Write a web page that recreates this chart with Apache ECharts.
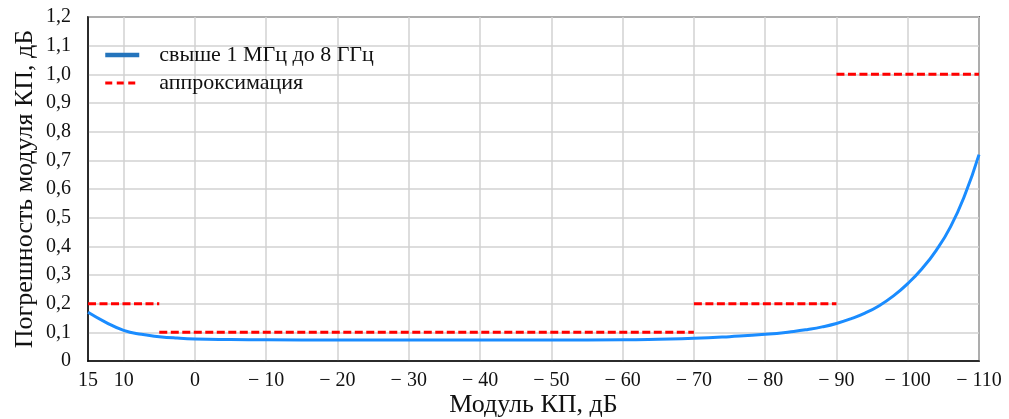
<!DOCTYPE html>
<html>
<head>
<meta charset="utf-8">
<script src="https://cdn.jsdelivr.net/npm/echarts@6/dist/echarts.min.js"></script>
<style>
  html, body { margin: 0; padding: 0; background: #fff; }
  #chart { width: 1009px; height: 419px; }
</style>
</head>
<body>
<div id="chart"></div>
<script>
// модуль КП, дБ (ось X идёт от 15 до -110)
const moduleDb = [15, 12.5, 10, 7.5, 5, 2.5, 0, -5, -10, -20, -30, -40, -50, -60, -65, -70, -75, -80, -84, -86, -88, -90, -92, -94, -96, -98, -100, -102, -104, -106, -108, -110]
// погрешность, свыше 1 МГц до 8 ГГц
const errorDb = [0.170, 0.135, 0.107, 0.093, 0.085, 0.080, 0.077, 0.075, 0.074, 0.073, 0.073, 0.073, 0.073, 0.074, 0.076, 0.079, 0.085, 0.093, 0.103, 0.110, 0.119, 0.131, 0.147, 0.167, 0.193, 0.227, 0.270, 0.322, 0.386, 0.468, 0.578, 0.720]

// аппроксимация: ступеньки
const approxFrom = [15, 5, -70, -90]
const approxTo = [5, -70, -90, -110]
const approxLevel = [0.2, 0.1, 0.2, 1.0]

const font = 'Liberation Serif'

const approxData = []
approxFrom.forEach((x0, i) => {
  approxData.push([x0, approxLevel[i]], [approxTo[i], approxLevel[i]])
  if (i < approxFrom.length - 1) approxData.push([approxTo[i], '-'])
})

const chart = echarts.init(document.getElementById('chart'))

const option = {
  animation: false,
  grid: {
    left: 88,
    right: 30,
    top: 17,
    bottom: 58,
    outerBoundsMode: 'none',
    show: true,
    borderColor: '#000',
    borderWidth: 1.5,
  },
  legend: {
    orient: 'vertical',
    left: 103,
    top: 44,
    padding: 0,
    itemGap: 6,
    itemWidth: 34,
    itemHeight: 22,
    itemStyle: { opacity: 0 },
    textStyle: {
      fontFamily: font,
      fontSize: 22,
      lineHeight: 22,
      color: '#111',
      padding: [0, 0, 0, 15],
    },
    data: [
      { name: 'свыше 1 МГц до 8 ГГц', lineStyle: { width: 4.5, color: '#2474bc' } },
      { name: 'аппроксимация', lineStyle: { width: 3, type: [7, 4.5] } },
    ],
  },
  xAxis: {
    type: 'value',
    inverse: true,
    min: -110,
    max: 15,
    interval: 10,
    name: 'Модуль КП, дБ',
    nameLocation: 'middle',
    nameGap: 31,
    nameMoveOverlap: false,
    nameTextStyle: { fontFamily: font, fontSize: 26, color: '#111' },
    axisLine: { lineStyle: { color: '#000', width: 1.5 } },
    axisTick: { show: false },
    axisLabel: {
      fontFamily: font,
      fontSize: 20,
      color: '#111',
      margin: 10,
      formatter: (v) => (v < 0 ? '\u2212 ' + (-v) : String(v)),
    },
    splitLine: { show: true, lineStyle: { color: '#d2d2d2', width: 1.5 } },
  },
  yAxis: {
    type: 'value',
    min: 0,
    max: 1.2,
    interval: 0.1,
    name: 'Погрешность модуля КП, дБ',
    nameLocation: 'middle',
    nameGap: 50,
    nameMoveOverlap: false,
    nameTextStyle: { fontFamily: font, fontSize: 26, color: '#111' },
    axisLine: { show: true, onZero: false, lineStyle: { color: '#000', width: 1.5 } },
    axisTick: { show: false },
    axisLabel: {
      fontFamily: font,
      fontSize: 20,
      color: '#111',
      margin: 17,
      formatter: (v) => (v === 0 ? '0' : v.toFixed(1).replace('.', ',')),
    },
    splitLine: { show: true, lineStyle: { color: '#d2d2d2', width: 1.5 } },
  },
  series: [
    {
      name: 'свыше 1 МГц до 8 ГГц',
      type: 'line',
      smooth: true,
      symbol: 'none',
      lineStyle: { color: '#1a8cff', width: 3 },
      itemStyle: { color: '#1a8cff' },
      data: moduleDb.map((x, i) => [x, errorDb[i]]),
      z: 3,
    },
    {
      name: 'аппроксимация',
      type: 'line',
      symbol: 'none',
      connectNulls: false,
      lineStyle: { color: '#ff0000', width: 3, type: [8, 3.5] },
      itemStyle: { color: '#ff0000' },
      data: approxData,
      z: 4,
    },
  ],
}

chart.setOption(option)
</script>
</body>
</html>
